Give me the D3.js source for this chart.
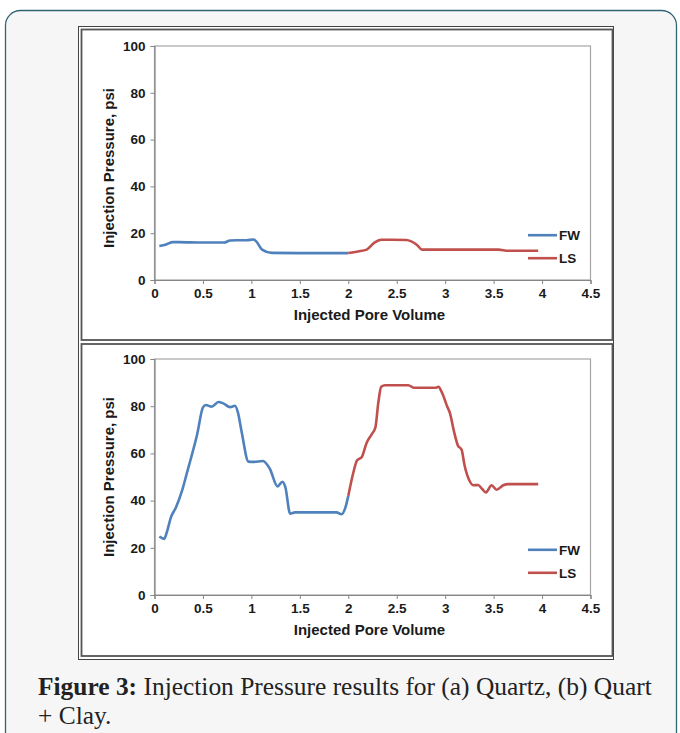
<!DOCTYPE html>
<html>
<meta charset="utf-8">
<style>
  body { margin: 0; background: #fff; }
  svg { display: block; }
</style>
<body>
</body>
<script src="https://cdn.jsdelivr.net/npm/d3@7"></script>
<script>

// panel (a) Quartz
var fwA_x = [0.05, 0.12, 0.19, 0.25, 0.5, 0.72, 0.78, 0.85, 0.95, 1.02, 1.05, 1.11, 1.21, 1.5, 1.8, 2.0];
var fwA_y = [14.5, 15.2, 16.2, 16.2, 16, 16, 16.9, 17, 17, 17.3, 16.5, 13, 11.6, 11.5, 11.5, 11.5];
var lsA_x = [2.0, 2.1, 2.19, 2.27, 2.34, 2.45, 2.6, 2.65, 2.71, 2.76, 2.85, 3.2, 3.55, 3.65, 3.8, 3.96];
var lsA_y = [11.5, 12.2, 13, 16, 17.2, 17.2, 17.1, 16.5, 15, 13, 13, 13, 13, 12.5, 12.5, 12.5];

// panel (b) Quartz + Clay
var fwB_x = [0.05, 0.1, 0.13, 0.17, 0.22, 0.29, 0.33, 0.37, 0.44, 0.5, 0.53, 0.59, 0.66, 0.71, 0.78, 0.83,
             0.86, 0.9, 0.97, 1.02, 1.12, 1.19, 1.27, 1.32, 1.35, 1.4, 1.45, 1.7, 1.88, 1.93, 1.97, 2.0];
var fwB_y = [24.8, 23.8, 27, 33, 37, 45, 51, 57, 68, 79.5, 80.5, 79.8, 81.8, 81.2, 79.6, 80.2,
             77.5, 69, 56.5, 56.4, 56.8, 53.5, 46, 48, 45.8, 34.5, 35, 35, 35, 34.2, 37, 42];
var lsB_x = [2.0, 2.05, 2.09, 2.14, 2.19, 2.24, 2.28, 2.31, 2.34, 2.38, 2.5, 2.62, 2.68, 2.75, 2.9, 2.93,
             2.97, 3.02, 3.05, 3.09, 3.13, 3.17, 3.2, 3.25, 3.29, 3.34, 3.38, 3.42, 3.48, 3.53, 3.6, 3.65, 3.8, 3.96];
var lsB_y = [42, 51.5, 57, 58.5, 64.5, 68, 71, 81.5, 88.2, 88.9, 88.9, 88.9, 87.8, 87.8, 87.8, 88.2,
             85.5, 80, 77, 69.5, 63.5, 61.5, 55, 48.5, 46.5, 46.6, 45, 43.5, 46.5, 44.6, 46.5, 47, 47, 47];

var xTicks = [0, 0.5, 1, 1.5, 2, 2.5, 3, 3.5, 4, 4.5];
var yTicks = [0, 20, 40, 60, 80, 100];
var seriesNames = ["FW", "LS"];
var seriesColors = ["#4f81bd", "#c0504d"];

var width = 680, height = 733;
var sans = "'Liberation Sans', Arial, sans-serif";

var svg = d3.select("body").append("svg")
    .attr("width", width)
    .attr("height", height);

// card
svg.append("rect")
    .attr("x", 5.5).attr("y", 10.5)
    .attr("width", 671).attr("height", 740)
    .attr("rx", 15)
    .attr("fill", "#f6f6f6")
    .attr("stroke", "#2e6474")
    .attr("stroke-width", 1.3);

// picture frame
svg.append("rect")
    .attr("x", 78.5).attr("y", 26.5).attr("width", 535).attr("height", 633)
    .attr("fill", "#fff").attr("stroke", "#444").attr("stroke-width", 1);

var panels = [
  { fx: fwA_x, fy: fwA_y, lx: lsA_x, ly: lsA_y, top: 29.5, bottom: 340, y0: 280, y100: 46, tc: 5 },
  { fx: fwB_x, fy: fwB_y, lx: lsB_x, ly: lsB_y, top: 344, bottom: 656, y0: 595, y100: 359, tc: 0 }
];

var x = d3.scaleLinear().domain([0, 4.5]).range([154.5, 590.5]);

panels.forEach(function (p) {
  var g = svg.append("g");

  g.append("rect")
    .attr("x", 81.5).attr("y", p.top)
    .attr("width", 531).attr("height", p.bottom - p.top)
    .attr("fill", "#fff").attr("stroke", "#555").attr("stroke-width", 1.8);

  var y = d3.scaleLinear().domain([0, 100]).range([p.y0, p.y100]);

  // plot area border
  g.append("rect")
    .attr("x", x(0)).attr("y", y(100))
    .attr("width", x(4.5) - x(0)).attr("height", y(0) - y(100))
    .attr("fill", "none").attr("stroke", "#a6a6a6").attr("stroke-width", 1.2);

  var yAxis = g.append("g")
    .attr("transform", "translate(" + x(0) + ",0)")
    .call(d3.axisLeft(y).tickValues(yTicks).tickSize(4).tickPadding(5));

  var xAxis = g.append("g")
    .attr("transform", "translate(0," + y(0) + ")")
    .call(d3.axisBottom(x).tickValues(xTicks).tickSize(4).tickPadding(4)
      .tickFormat(function (d) { return d3.format("")(d); }));

  [xAxis, yAxis].forEach(function (a) {
    a.select(".domain").attr("stroke", "#868686").attr("stroke-width", 1.2);
    a.selectAll(".tick line").attr("stroke", "#868686");
    a.selectAll("text")
      .attr("fill", "#1a1a1a")
      .style("font-family", sans)
      .style("font-weight", "bold")
      .style("font-size", "13.5px");
  });

  g.append("text")
    .attr("x", (x(0) + x(4.5)) / 2 - 3)
    .attr("y", y(0) + 40)
    .attr("text-anchor", "middle")
    .style("font-family", sans)
    .style("font-weight", "bold")
    .style("font-size", "15px")
    .attr("fill", "#1a1a1a")
    .text("Injected Pore Volume");

  g.append("text")
    .attr("transform", "translate(114," + ((y(0) + y(100)) / 2 + p.tc) + ")rotate(-90)")
    .attr("text-anchor", "middle")
    .style("font-family", sans)
    .style("font-weight", "bold")
    .style("font-size", "15px")
    .attr("fill", "#1a1a1a")
    .text("Injection Pressure, psi");

  var line = d3.line()
    .x(function (d) { return x(d[0]); })
    .y(function (d) { return y(d[1]); })
    .curve(d3.curveMonotoneX);

  var sets = [d3.zip(p.fx, p.fy), d3.zip(p.lx, p.ly)];

  g.selectAll(".series").data(sets).enter()
    .append("path")
    .attr("class", "series")
    .attr("d", line)
    .attr("fill", "none")
    .attr("stroke", function (d, i) { return seriesColors[i]; })
    .attr("stroke-width", 2.6)
    .attr("stroke-linejoin", "round");

  // legend
  var lg = g.selectAll(".leg").data(seriesNames).enter()
    .append("g").attr("class", "leg")
    .attr("transform", function (d, i) { return "translate(528," + (y(20) + 2 + i * 23) + ")"; });
  lg.append("line")
    .attr("x1", 0).attr("x2", 29).attr("y1", 0).attr("y2", 0)
    .attr("stroke", function (d, i) { return seriesColors[i]; })
    .attr("stroke-width", 2.6);
  lg.append("text")
    .attr("x", 31).attr("y", 5)
    .style("font-family", sans)
    .style("font-weight", "bold")
    .style("font-size", "13.5px")
    .attr("fill", "#1a1a1a")
    .text(function (d) { return d; });
});

// caption
var cap = svg.append("g")
    .style("font-family", "'Liberation Serif', 'DejaVu Serif', serif")
    .attr("fill", "#222");

var line1 = cap.append("text").attr("x", 38).attr("y", 695).style("font-size", "21px");
line1.append("tspan").style("font-weight", "bold").text("Figure 3:");
line1.append("tspan").text(" Injection Pressure results for (a) Quartz, (b) Quart");
cap.append("text").attr("x", 38).attr("y", 724).style("font-size", "21px").text("+ Clay.");

// stretch the caption to the width of the original typeface
var w = line1.node().getComputedTextLength();
var k = 614 / w;
cap.selectAll("text").style("font-size", (21 * k) + "px");

</script>
</html>
